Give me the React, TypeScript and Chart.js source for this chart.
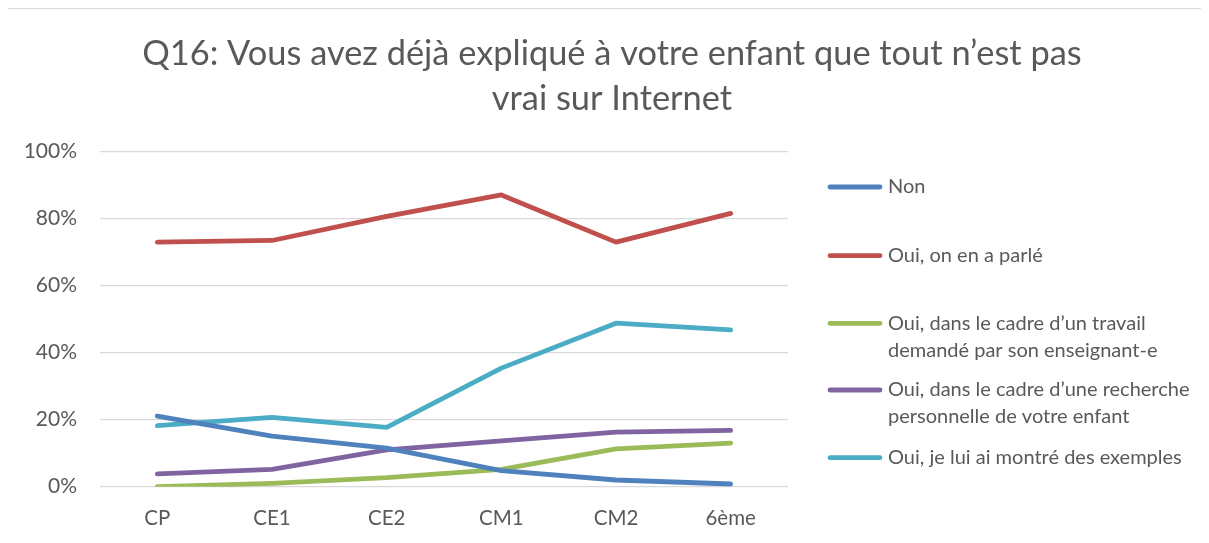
import React, { useEffect, useRef } from "react";
import { Chart, registerables } from "chart.js";

Chart.register(...registerables);

const categories = ["CP", "CE1", "CE2", "CM1", "CM2", "6ème"];
const seriesNames = [
  "Non",
  "Oui, on en a parlé",
  "Oui, dans le cadre d’un travail demandé par son enseignant-e",
  "Oui, dans le cadre d’une recherche personnelle de votre enfant",
  "Oui, je lui ai montré des exemples",
];
const legendLines = [
  ["Non"],
  ["Oui, on en a parlé"],
  ["Oui, dans le cadre d’un travail", "demandé par son enseignant-e"],
  ["Oui, dans le cadre d’une recherche", "personnelle de votre enfant"],
  ["Oui, je lui ai montré des exemples"],
];
const nonValues = [21.1, 15.1, 11.5, 4.8, 2.0, 0.8];
const parleValues = [73.0, 73.5, 80.7, 87.1, 73.0, 81.6];
const travailValues = [0.0, 1.0, 2.7, 5.2, 11.3, 13.0];
const rechercheValues = [3.8, 5.2, 11.0, 13.7, 16.3, 16.8];
const exemplesValues = [18.2, 20.7, 17.7, 35.4, 48.8, 46.8];
const seriesColors = ["#4F81BD", "#C0504D", "#9BBB59", "#8064A2", "#4BACC6"];
const titleLines = [
  "Q16: Vous avez déjà expliqué à votre enfant que tout n’est pas",
  "vrai sur Internet",
];
const yTicks = [0, 20, 40, 60, 80, 100];

const FONT = "Lato, 'Open Sans', sans-serif";
const TEXT = "#595959";

const customPlugin = {
  id: "customDecor",
  afterDraw(chart: any) {
    const ctx = chart.ctx;
    ctx.save();
    // Title
    ctx.fillStyle = TEXT;
    ctx.font = `34.4px ${FONT}`;
    ctx.textAlign = "center";
    ctx.textBaseline = "middle";
    const titleY = [45, 90];
    titleLines.forEach((t, i) => ctx.fillText(t, 604, titleY[i]));
    // Legend
    const itemY = [178, 246.7, 314.3, 381, 448.7];
    ctx.font = `20px ${FONT}`;
    ctx.textAlign = "left";
    chart.data.datasets.forEach((ds: any, i: number) => {
      const y = itemY[i];
      ctx.strokeStyle = ds.borderColor;
      ctx.lineWidth = 4.8;
      ctx.lineCap = "round";
      ctx.beginPath();
      ctx.moveTo(822, y);
      ctx.lineTo(872, y);
      ctx.stroke();
      ctx.fillStyle = TEXT;
      legendLines[i].forEach((line, j) => {
        ctx.fillText(line, 880, y + j * 27);
      });
    });
    ctx.restore();
  },
};

export default function App() {
  const canvasRef = useRef<HTMLCanvasElement | null>(null);

  useEffect(() => {
    if (!canvasRef.current) return;
    const allValues = [nonValues, parleValues, travailValues, rechercheValues, exemplesValues];
    const chart = new Chart(canvasRef.current, {
      type: "line",
      data: {
        labels: categories,
        datasets: allValues.map((vals, i) => ({
          label: seriesNames[i],
          data: vals,
          borderColor: seriesColors[i],
          backgroundColor: seriesColors[i],
          borderWidth: 4.8,
          borderCapStyle: "round",
          borderJoinStyle: "round",
          pointRadius: 0,
          pointHoverRadius: 0,
          tension: 0,
          fill: false,
        })),
      },
      options: {
        animation: false,
        responsive: false,
        maintainAspectRatio: false,
        events: [],
        layout: { padding: { top: 142.7, right: 413, left: 0, bottom: 0 } },
        plugins: {
          legend: { display: false },
          title: { display: false },
          tooltip: { enabled: false },
        },
        scales: {
          x: {
            offset: true,
            grid: { display: false, drawTicks: false },
            border: { display: false },
            ticks: {
              color: TEXT,
              font: { family: FONT, size: 20.5 },
              padding: 19,
              maxRotation: 0,
            },
            afterFit(scale: any) {
              scale.height = 56.3;
            },
          },
          y: {
            min: 0,
            max: 100,
            afterBuildTicks(scale: any) {
              scale.ticks = yTicks.map((v) => ({ value: v }));
            },
            grid: { color: "#d9d9d9", lineWidth: 1.3, drawTicks: false },
            border: { display: false },
            ticks: {
              color: TEXT,
              font: { family: FONT, size: 21 },
              padding: 23,
              callback: (v: any) => `${v}%`,
            },
            afterFit(scale: any) {
              scale.width = 92;
            },
          },
        },
      },
      plugins: [customPlugin],
    });
    return () => chart.destroy();
  }, []);

  return (
    <div
      style={{
        marginLeft: -2,
        marginTop: -1,
        borderLeft: "2px solid #d9d9d9",
        borderTop: "2px solid #d9d9d9",
        width: 1193,
        height: 534,
        background: "#fff",
      }}
    >
      <canvas ref={canvasRef} width={1193} height={534} style={{ display: "block" }} />
    </div>
  );
}
